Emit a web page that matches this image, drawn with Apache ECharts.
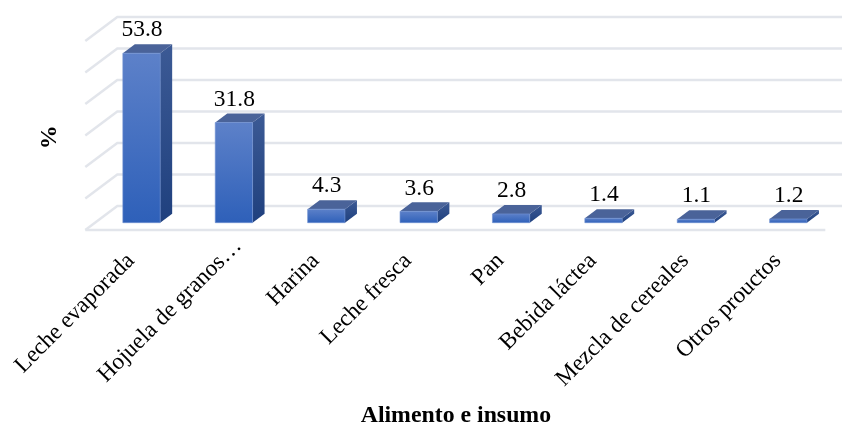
<!DOCTYPE html>
<html><head><meta charset="utf-8">
<script src="https://cdn.jsdelivr.net/npm/echarts@6/dist/echarts.min.js"></script>
<style>html,body{margin:0;padding:0;background:#fff}#c{width:842px;height:425px}</style>
</head><body><div id="c"></div>
<script>
const categories = ['Leche evaporada','Hojuela de granos…','Harina','Leche fresca','Pan','Bebida láctea','Mezcla de cereales','Otros prouctos'];
const values = [53.8,31.8,4.3,3.6,2.8,1.4,1.1,1.2];
const ticks = [0,10,20,30,40,50,60];
const FONT = '"Liberation Serif","Times New Roman",serif';
const chart = echarts.init(document.getElementById('c'),null,{renderer:'canvas'});
const grey = '#e2e5eb';
function renderGrid(params, api){
  const v = api.value(0), cs = params.coordSys;
  const y = api.coord([0,v])[1];
  const L = cs.x;
  const ls = {stroke:grey, lineWidth:2.4, fill:null};
  const children = [
    {type:'polyline',shape:{points:[[L-10,y+7.3],[L+22,y-16.7],[api.getWidth(),y-16.7]]},style:ls}
  ];
  if(v===0) children.push({type:'line',shape:{x1:L-10,y1:y+7.3,x2:L+730,y2:y+7.3},style:{stroke:grey,lineWidth:2.4}});
  return {type:'group',children};
}
function renderBar(params, api){
  const i = api.value(0), v = api.value(1);
  const top = api.coord([i,v]), base = api.coord([i,0]);
  const w = api.size([1,0])[0]*0.404;
  const x0 = top[0]-w/2, x1 = top[0]+w/2, yt = top[1], yb = base[1];
  const dx = 12, dy = 9;
  const front = new echarts.graphic.LinearGradient(0,0,0,1,[{offset:0,color:'#5d81c9'},{offset:1,color:'#2e60b9'}]);
  const side = new echarts.graphic.LinearGradient(0,0,0,1,[{offset:0,color:'#3c5a95'},{offset:1,color:'#1f407e'}]);
  return {type:'group',children:[
    {type:'polygon',shape:{points:[[x1,yt],[x1+dx,yt-dy],[x1+dx,yb-dy],[x1,yb]]},style:{fill:side}},
    {type:'polygon',shape:{points:[[x0,yt],[x0+dx,yt-dy],[x1+dx,yt-dy],[x1,yt]]},style:{fill:'#4a6399'}},
    {type:'rect',shape:{x:x0,y:yt,width:x1-x0,height:yb-yt},style:{fill:front,stroke:'#6f90d2',lineWidth:0.6}},
    {type:'text',style:{text:String(v.toFixed(1)),x:top[0]+0.5,y:yt-11,align:'center',verticalAlign:'bottom',font:'23.5px '+FONT,fill:'#000'}}
  ]};
}
const catData = categories.map((c,i)=> i===1 ? {value:c,textStyle:{padding:[0,-6,0,0]}} : c);
chart.setOption({
  animation:false,
  backgroundColor:'#fff',
  grid:{left:95.3,top:33.7,width:739.2,height:189,containLabel:false,outerBoundsMode:'none'},
  xAxis:{type:'category',data:catData,axisLine:{show:false},axisTick:{show:false},splitLine:{show:false},
    axisLabel:{interval:0,rotate:45,margin:24,padding:[0,15,0,0],fontFamily:FONT,fontSize:23.3,color:'#000'},
    name:'Alimento e insumo',nameLocation:'middle',nameGap:181,
    nameTextStyle:{fontFamily:FONT,fontSize:23.8,fontWeight:'bold',color:'#000',padding:[0,18,0,0]}},
  yAxis:{type:'value',min:0,max:60,interval:10,axisLine:{show:false},axisTick:{show:false},splitLine:{show:false},
    axisLabel:{show:false},
    name:'%',nameLocation:'middle',nameGap:34,nameRotate:90,
    nameTextStyle:{fontFamily:FONT,fontSize:24,fontWeight:'bold',color:'#000',padding:[0,18,0,0]}},
  series:[
    {type:'custom',renderItem:renderGrid,data:ticks.map(t=>[t]),encode:{y:0},silent:true,z:1},
    {type:'custom',renderItem:renderBar,data:values.map((v,i)=>[i,v]),encode:{x:0,y:1},z:2}
  ]
});
</script></body></html>
